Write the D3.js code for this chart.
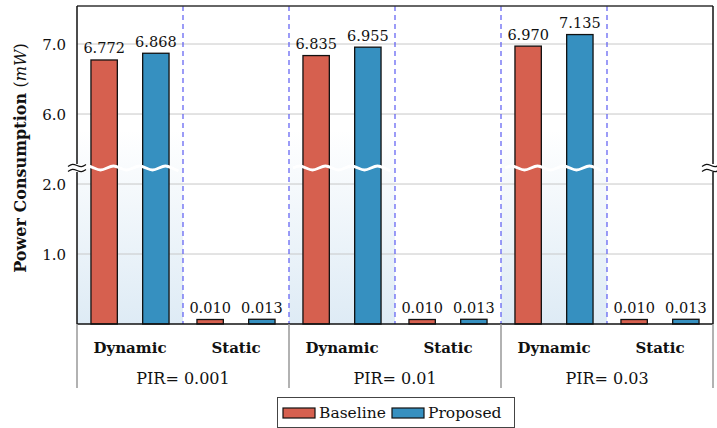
<!DOCTYPE html>
<html>
<head>
<meta charset="utf-8">
<script src="https://cdn.jsdelivr.net/npm/d3@7"></script>
<style>
  html, body { margin: 0; padding: 0; background: #fff; }
  svg { display: block; }
  text { font-family: "DejaVu Serif", "Liberation Serif", serif; fill: #111; }
</style>
</head>
<body>
<div id="chart"></div>
<script>
// data
var pirLabels = ["PIR= 0.001", "PIR= 0.01", "PIR= 0.03"];
var kinds = ["Dynamic", "Static"];
var seriesNames = ["Baseline", "Proposed"];
var baselineDynamic = [6.772, 6.835, 6.970];
var proposedDynamic = [6.868, 6.955, 7.135];
var baselineStatic = [0.010, 0.010, 0.010];
var proposedStatic = [0.013, 0.013, 0.013];
var lowerTicks = [1.0, 2.0];
var upperTicks = [6.0, 7.0];
var seriesColors = ["#d6604f", "#3690c0"];

var width = 717,
  height = 428,
  plotLeft = 77, plotRight = 713, plotTop = 6, plotBottom = 324,
  breakY = 168;

var svg = d3.select("#chart").append("svg")
  .attr("width", width)
  .attr("height", height);

// scales
var xGroup = d3.scaleBand().domain(pirLabels).range([plotLeft, plotRight]);
var xKind = d3.scaleBand().domain(kinds).range([0, xGroup.bandwidth()]);
var xSeries = d3.scaleBand().domain(seriesNames)
  .range([0, xKind.bandwidth()])
  .paddingInner(0.49)
  .paddingOuter(0.27);

var yLow = d3.scaleLinear().domain([0, 2.229]).range([plotBottom, breakY]);
var yHigh = d3.scaleLinear().domain([5.229, 7.543]).range([breakY, plotTop]);

// rows for bars
var rows = [];
pirLabels.forEach(function (g, i) {
  rows.push({group: g, kind: "Dynamic", series: "Baseline", value: baselineDynamic[i]});
  rows.push({group: g, kind: "Dynamic", series: "Proposed", value: proposedDynamic[i]});
  rows.push({group: g, kind: "Static", series: "Baseline", value: baselineStatic[i]});
  rows.push({group: g, kind: "Static", series: "Proposed", value: proposedStatic[i]});
});

function colX(d) { return xGroup(d.group) + xKind(d.kind); }
function barX(d) { return colX(d) + xSeries(d.series); }
function barTop(d) {
  // dynamic bars live in the upper (broken) section, static in the lower one;
  // tiny static values get a small stub so they stay visible
  return d.kind === "Dynamic" ? yHigh(d.value) : yLow(d.value) - 3.8;
}

// gradient behind the dynamic columns
var grad = svg.append("defs").append("linearGradient")
  .attr("id", "bg").attr("x1", 0).attr("y1", 0).attr("x2", 0).attr("y2", 1);
grad.append("stop").attr("offset", "0%").attr("stop-color", "#ffffff");
grad.append("stop").attr("offset", "100%").attr("stop-color", "#deebf5");

var columns = [];
pirLabels.forEach(function (g) {
  kinds.forEach(function (k) { columns.push({group: g, kind: k}); });
});

svg.selectAll("rect.bg")
  .data(columns.filter(function (c) { return c.kind === "Dynamic"; }))
  .enter().append("rect")
    .attr("class", "bg")
    .attr("x", colX)
    .attr("y", 130)
    .attr("width", xKind.bandwidth())
    .attr("height", plotBottom - 130)
    .attr("fill", "url(#bg)");

// grid
var gridVals = upperTicks.map(function (v) { return {v: v, y: yHigh(v)}; })
  .concat(lowerTicks.map(function (v) { return {v: v, y: yLow(v)}; }));

svg.selectAll("line.grid")
  .data(gridVals)
  .enter().append("line")
    .attr("x1", plotLeft).attr("x2", plotRight)
    .attr("y1", function (d) { return d.y; })
    .attr("y2", function (d) { return d.y; })
    .attr("stroke", "#c8c8c8")
    .attr("stroke-width", 1);

svg.selectAll("text.tick")
  .data(gridVals)
  .enter().append("text")
    .attr("x", plotLeft - 11)
    .attr("y", function (d) { return d.y + 5.5; })
    .attr("text-anchor", "end")
    .attr("font-size", 15)
    .text(function (d) { return d3.format(".1f")(d.v); });

// dashed separators between columns
var dashX = columns.slice(1).map(colX);
svg.selectAll("line.dash")
  .data(dashX)
  .enter().append("line")
    .attr("x1", function (d) { return d; })
    .attr("x2", function (d) { return d; })
    .attr("y1", plotTop).attr("y2", plotBottom)
    .attr("stroke", "#5a5af2")
    .attr("stroke-width", 1.2)
    .attr("stroke-dasharray", "5,4");

// bars
svg.selectAll("rect.bar")
  .data(rows)
  .enter().append("rect")
    .attr("x", barX)
    .attr("y", barTop)
    .attr("width", xSeries.bandwidth())
    .attr("height", function (d) { return plotBottom - barTop(d); })
    .attr("fill", function (d) { return seriesColors[seriesNames.indexOf(d.series)]; })
    .attr("stroke", "#111")
    .attr("stroke-width", 1.3);

svg.selectAll("text.val")
  .data(rows)
  .enter().append("text")
    .attr("x", function (d) { return barX(d) + xSeries.bandwidth() / 2; })
    .attr("y", function (d) { return barTop(d) - 6.5; })
    .attr("text-anchor", "middle")
    .attr("font-size", 14.5)
    .text(function (d) { return d3.format(".3f")(d.value); });

// white wave marking the axis break across dynamic columns
var wave = d3.line().curve(d3.curveBasis);
svg.selectAll("path.wave")
  .data(columns.filter(function (c) { return c.kind === "Dynamic"; }))
  .enter().append("path")
    .attr("d", function (c) {
      var x0 = colX(c) + 4, pts = [];
      var xs = d3.range(0, xKind.bandwidth() - 7, 6.5);
      xs.forEach(function (dx, i) {
        pts.push([x0 + dx, breakY + (i % 4 === 1 ? -3 : i % 4 === 3 ? 3 : 0)]);
      });
      return wave(pts);
    })
    .attr("fill", "none")
    .attr("stroke", "#fff")
    .attr("stroke-width", 3);

// frame
svg.append("line").attr("x1", plotLeft).attr("x2", plotRight).attr("y1", plotTop).attr("y2", plotTop)
  .attr("stroke", "#333").attr("stroke-width", 1.5);
svg.append("line").attr("x1", plotLeft).attr("x2", plotRight).attr("y1", plotBottom).attr("y2", plotBottom)
  .attr("stroke", "#111").attr("stroke-width", 1.5);
[plotLeft, plotRight].forEach(function (x) {
  svg.append("line").attr("x1", x).attr("x2", x).attr("y1", plotTop).attr("y2", plotBottom)
    .attr("stroke", "#111").attr("stroke-width", 1.5);
});

// break marks on the side axes
[plotLeft, plotRight - 2].forEach(function (x) {
  svg.append("rect").attr("x", x - 9).attr("y", breakY - 4).attr("width", 18).attr("height", 8)
    .attr("fill", "#fff");
  [-2.5, 2.5].forEach(function (o) {
    var pts = [[x - 9, breakY + o + 1], [x - 4.5, breakY + o - 2], [x, breakY + o],
               [x + 4.5, breakY + o + 2], [x + 9, breakY + o - 1]];
    svg.append("path").attr("d", wave(pts))
      .attr("fill", "none").attr("stroke", "#111").attr("stroke-width", 1.2);
  });
});

// group separators below the axis
var sepX = pirLabels.map(function (g) { return xGroup(g); }).concat([plotRight]);
svg.selectAll("line.sep")
  .data(sepX)
  .enter().append("line")
    .attr("x1", function (d) { return d; })
    .attr("x2", function (d) { return d; })
    .attr("y1", plotBottom).attr("y2", 388)
    .attr("stroke", "#999")
    .attr("stroke-width", 1.5);

svg.selectAll("text.kind")
  .data(columns)
  .enter().append("text")
    .attr("x", function (c) { return colX(c) + xKind.bandwidth() / 2; })
    .attr("y", 353)
    .attr("text-anchor", "middle")
    .attr("font-size", 15)
    .attr("font-weight", "bold")
    .text(function (c) { return c.kind; });

svg.selectAll("text.group")
  .data(pirLabels)
  .enter().append("text")
    .attr("x", function (g) { return xGroup(g) + xGroup.bandwidth() / 2; })
    .attr("y", 384)
    .attr("text-anchor", "middle")
    .attr("font-size", 16)
    .text(function (g) { return g; });

// y axis title
var title = svg.append("text")
  .attr("transform", "translate(26,158) rotate(-90)")
  .attr("text-anchor", "middle")
  .attr("font-size", 16)
  .attr("font-weight", "bold");
title.append("tspan").text("Power Consumption ");
title.append("tspan").attr("font-weight", "normal").text("(");
title.append("tspan").attr("font-weight", "normal").attr("font-style", "italic").text("mW");
title.append("tspan").attr("font-weight", "normal").text(")");

// legend
var legend = svg.append("g");
legend.append("rect")
  .attr("x", 277.5).attr("y", 397.5).attr("width", 237).attr("height", 30)
  .attr("fill", "#fff").attr("stroke", "#444").attr("stroke-width", 1);
var legendX = [283, 392];
seriesNames.forEach(function (s, i) {
  legend.append("rect")
    .attr("x", legendX[i]).attr("y", 408).attr("width", 32).attr("height", 10)
    .attr("fill", seriesColors[i]).attr("stroke", "#111").attr("stroke-width", 1.2);
  legend.append("text")
    .attr("x", legendX[i] + 36).attr("y", 418)
    .attr("font-size", 15.5)
    .text(s);
});
</script>
</body>
</html>
